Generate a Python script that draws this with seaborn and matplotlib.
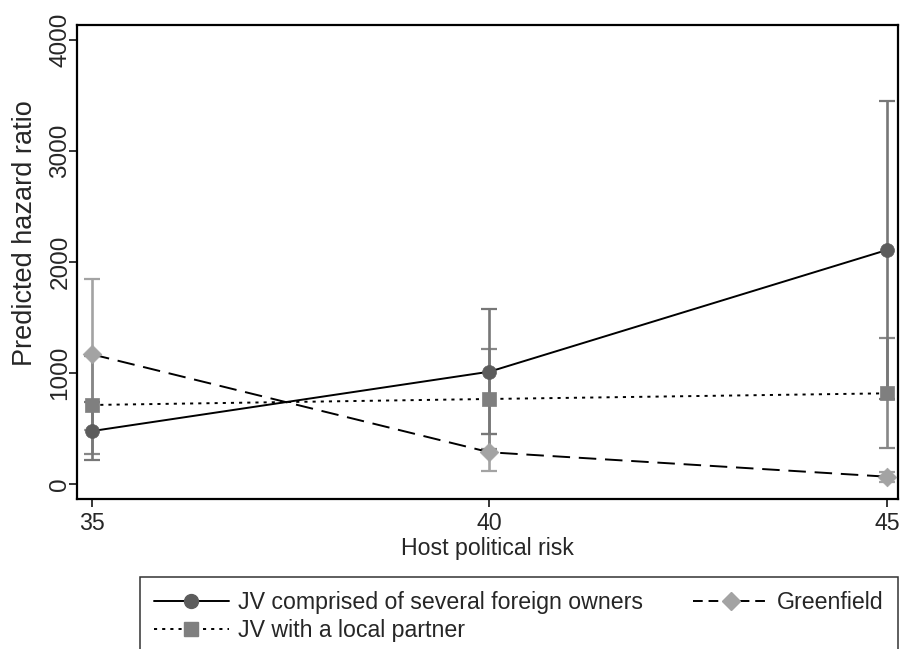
import numpy as np
import pandas as pd
import matplotlib
matplotlib.use("Agg")
import matplotlib.pyplot as plt
from matplotlib.lines import Line2D
import seaborn as sns

# Predicted hazard ratios with symmetric 95% confidence half-widths
risk = [35, 40, 45]
several_foreign = [477, 1012, 2108]
several_foreign_ci = [260, 562, 1342]
local_partner = [712, 766, 817]
local_partner_ci = [440, 447, 497]
greenfield = [1168, 286, 66]
greenfield_ci = [679, 169, 45]

names = ["JV comprised of several foreign owners", "JV with a local partner", "Greenfield"]
x_ticks = [35, 40, 45]
y_ticks = [0, 1000, 2000, 3000, 4000]

df = pd.DataFrame({
    "risk": risk * 3,
    "hr": several_foreign + local_partner + greenfield,
    "half": several_foreign_ci + local_partner_ci + greenfield_ci,
    "mode": [names[0]] * 3 + [names[1]] * 3 + [names[2]] * 3,
})

sns.set_theme(style="white")
plt.rcParams["font.family"] = ["Liberation Sans", "DejaVu Sans"]

marker_col = {names[0]: "#5c5c5c", names[1]: "#7f7f7f", names[2]: "#a3a3a3"}
ci_col = {names[0]: "#777777", names[1]: "#878787", names[2]: "#a3a3a3"}
markers = {names[0]: "o", names[1]: "s", names[2]: "D"}
msize = {names[0]: 10, names[1]: 9.5, names[2]: 9.5}
dashes = {names[0]: "", names[1]: (1.6, 2.6), names[2]: (9, 4.5)}

fig = plt.figure(figsize=(9.01, 6.49), dpi=100)
ax = fig.add_axes([77 / 901, 1 - 499 / 649, (898 - 77) / 901, (499 - 25) / 649])

# confidence intervals
for name in [names[2], names[1], names[0]]:
    sub = df[df["mode"] == name]
    ax.errorbar(sub["risk"], sub["hr"], yerr=sub["half"], fmt="none",
                ecolor=ci_col[name], elinewidth=1.9, capsize=5.5, capthick=1.6,
                zorder=1)

# connecting lines
sns.lineplot(data=df, x="risk", y="hr", hue="mode", style="mode",
             palette={n: "black" for n in names}, dashes=dashes,
             linewidth=1.4, legend=False, ax=ax, zorder=2)

# point estimates
for name in names:
    sub = df[df["mode"] == name]
    sns.scatterplot(x=sub["risk"], y=sub["hr"], marker=markers[name],
                    s=msize[name] ** 2, color=marker_col[name],
                    edgecolor=marker_col[name], linewidth=0.5,
                    legend=False, ax=ax, zorder=3)

fs = 16.7
ax.set_xlim(34.81, 45.14)
ax.set_ylim(-135, 4135)
ax.set_xticks(x_ticks)
ax.set_xticklabels([str(t) for t in x_ticks], fontsize=fs)
ax.set_yticks(y_ticks)
ax.set_yticklabels([str(t) for t in y_ticks], fontsize=17.5, rotation=90, va="center")
ax.tick_params(axis="x", direction="out", length=6, width=1.1, color="black",
               bottom=True, pad=3)
ax.tick_params(axis="y", direction="out", length=6, width=1.1, color="black",
               left=True, pad=-2)
ax.set_xlabel("Host political risk", fontsize=fs, labelpad=2)
ax.set_ylabel("Predicted hazard ratio", fontsize=19.5)
ax.yaxis.set_label_coords(-0.047, 0.56)
for sp in ax.spines.values():
    sp.set_color("black")
    sp.set_linewidth(1.6)
ax.grid(False)

handles = [
    Line2D([0], [0], color="black", lw=1.4, linestyle="-", marker="o",
           markersize=10, markerfacecolor=marker_col[names[0]],
           markeredgecolor=marker_col[names[0]]),
    Line2D([0], [0], color="black", lw=1.4, linestyle=(0, (1.6, 2.6)), marker="s",
           markersize=9.5, markerfacecolor=marker_col[names[1]],
           markeredgecolor=marker_col[names[1]]),
    Line2D([0], [0], color="black", lw=1.4, linestyle=(0, (5, 3)), marker="D",
           markersize=9.5, markerfacecolor=marker_col[names[2]],
           markeredgecolor=marker_col[names[2]]),
]
leg = fig.legend(handles, names, loc="upper left",
                 bbox_to_anchor=(140 / 901, -0.2, 758 / 901, 1.2 - 577 / 649),
                 mode="expand", ncol=2, fontsize=fs, frameon=True, fancybox=False,
                 handlelength=3.2, handletextpad=0.4, numpoints=1,
                 borderpad=0.62, labelspacing=0.22, columnspacing=1.0,
                 borderaxespad=0)
leg.get_frame().set_edgecolor("black")
leg.get_frame().set_linewidth(1.1)

fig.savefig("out.png", dpi=100, facecolor="white")
